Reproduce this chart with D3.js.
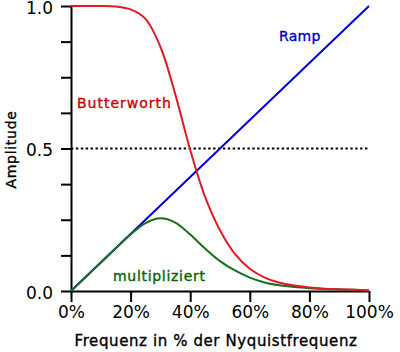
<!DOCTYPE html>
<html>
<head>
<meta charset="utf-8">
<script src="https://d3js.org/d3.v7.min.js"></script>
<style>
  body { margin: 0; background: #fff; }
  svg text { font-family: "DejaVu Sans", sans-serif; }
  .lbl { stroke-width: 0.35px; paint-order: stroke; }
</style>
</head>
<body>
<svg class="chart"></svg>
<script>
// frequency as fraction of Nyquist
var freq = [0, 0.05, 0.1, 0.15, 0.2, 0.25, 0.3, 0.35, 0.4, 0.45, 0.5,
            0.55, 0.6, 0.65, 0.7, 0.75, 0.8, 0.85, 0.9, 0.95, 1.0];
var butterworth = [1, 1, 1, 0.998, 0.988, 0.955, 0.857, 0.69, 0.495, 0.33, 0.213,
                   0.13, 0.078, 0.047, 0.029, 0.019, 0.012, 0.008, 0.006, 0.004, 0.002];
var multiplied = [0, 0.05, 0.1, 0.15, 0.198, 0.238, 0.255, 0.24, 0.198, 0.149, 0.105,
                  0.072, 0.047, 0.03, 0.02, 0.014, 0.01, 0.007, 0.005, 0.004, 0.002];
var rampX = [0, 1];
var rampY = [0, 1];
var xTicks = [0, 0.2, 0.4, 0.6, 0.8, 1.0];
var yTicks = [0, 0.125, 0.25, 0.375, 0.5, 0.625, 0.75, 0.875, 1.0];
var yLabels = [0, 0.5, 1.0];

var svgWidth = 400, svgHeight = 352;
var x = d3.scaleLinear().domain([0, 1]).range([71, 369]);
var y = d3.scaleLinear().domain([0, 1]).range([291, 6]);

var svg = d3.select(".chart")
    .attr("width", svgWidth)
    .attr("height", svgHeight);

// y axis
var yAxis = d3.axisLeft(y).tickValues(yTicks).tickSize(10).tickSizeOuter(0)
    .tickFormat(function(d) { return yLabels.indexOf(d) >= 0 ? d3.format(".1f")(d) : ""; })
    .tickPadding(8);
var gy = svg.append("g").attr("transform", "translate(" + x(0) + ",0)").call(yAxis);
gy.selectAll("line, path").attr("stroke", "#000").attr("stroke-width", 2);
gy.selectAll("text").attr("font-size", 17).attr("fill", "#000")
    .attr("font-family", "DejaVu Sans, sans-serif").attr("dy", "0.44em");

// x axis
var xAxis = d3.axisBottom(x).tickValues(xTicks).tickSize(11).tickSizeOuter(0)
    .tickFormat(function(d) { return Math.round(d * 100) + "%"; })
    .tickPadding(4);
var gx = svg.append("g").attr("transform", "translate(0," + y(0) + ")").call(xAxis);
gx.selectAll("line, path").attr("stroke", "#000").attr("stroke-width", 2);
gx.selectAll("text").attr("font-size", 17).attr("fill", "#000")
    .attr("font-family", "DejaVu Sans, sans-serif");

// axis titles
svg.append("text").attr("class", "lbl")
    .attr("x", (x(0) + x(1)) / 2 - 4).attr("y", 346)
    .attr("text-anchor", "middle").attr("font-size", 15)
    .attr("letter-spacing", 0.6).attr("fill", "#000").attr("stroke", "#000")
    .text("Frequenz in % der Nyquistfrequenz");
svg.append("text").attr("class", "lbl")
    .attr("transform", "translate(16," + (y(0.5) + 1) + ") rotate(-90)")
    .attr("text-anchor", "middle").attr("font-size", 14)
    .attr("letter-spacing", 0.7).attr("fill", "#000").attr("stroke", "#000")
    .text("Amplitude");

// dotted 0.5 line
svg.append("line")
    .attr("x1", x(0)).attr("x2", x(1))
    .attr("y1", y(0.5)).attr("y2", y(0.5))
    .attr("stroke", "#000").attr("stroke-width", 2)
    .attr("stroke-dasharray", "2.4,2.5");

var line = d3.line()
    .x(function(d) { return x(d[0]); })
    .y(function(d) { return y(d[1]); })
    .curve(d3.curveCatmullRom.alpha(0.5));

svg.append("path")
    .datum(rampX.map(function(f, i) { return [f, rampY[i]]; }))
    .attr("d", line).attr("fill", "none")
    .attr("stroke", "#0000dd").attr("stroke-width", 2);

svg.append("path")
    .datum(freq.map(function(f, i) { return [f, multiplied[i]]; }))
    .attr("d", line).attr("fill", "none")
    .attr("stroke", "#16701a").attr("stroke-width", 2);

svg.append("path")
    .datum(freq.map(function(f, i) { return [f, butterworth[i]]; }))
    .attr("d", line).attr("fill", "none")
    .attr("stroke", "#e01b24").attr("stroke-width", 2);

// series labels
svg.append("text").attr("class", "lbl").attr("x", 77).attr("y", 108)
    .attr("font-size", 14).attr("letter-spacing", 1)
    .attr("fill", "#cc0000").attr("stroke", "#cc0000").text("Butterworth");
svg.append("text").attr("class", "lbl").attr("x", 279).attr("y", 41)
    .attr("font-size", 14).attr("letter-spacing", 0.3)
    .attr("fill", "#0000cc").attr("stroke", "#0000cc").text("Ramp");
svg.append("text").attr("class", "lbl").attr("x", 113).attr("y", 281)
    .attr("font-size", 14).attr("letter-spacing", 0.7)
    .attr("fill", "#006400").attr("stroke", "#006400").text("multipliziert");
</script>
</body>
</html>
